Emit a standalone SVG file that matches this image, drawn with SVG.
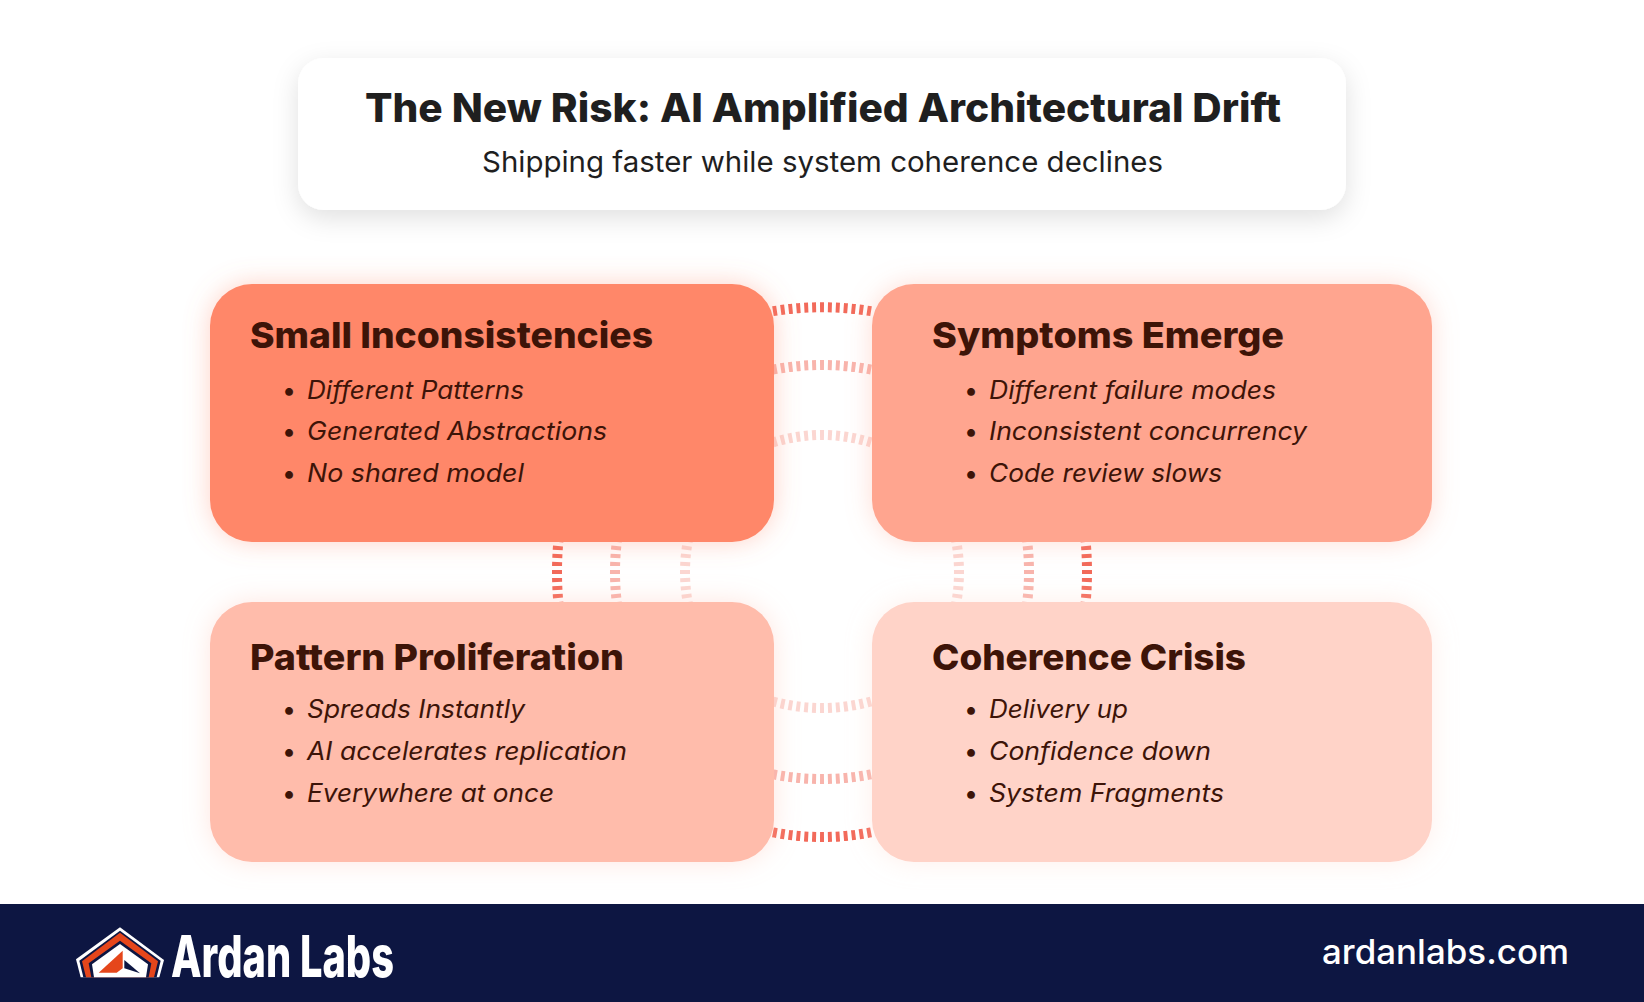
<svg xmlns="http://www.w3.org/2000/svg" width="1644" height="1002" viewBox="0 0 1644 1002">
<style>
text{font-family:"Inter","Noto Sans","Liberation Sans",sans-serif}
.h{font-size:36px;font-weight:800;fill:#3d1408}
.b{font-size:25px;font-style:italic;font-weight:400;fill:#3d1408}
.d{font-size:25px;fill:#3d1408}
.c{fill:none;stroke:#f26a5a;stroke-width:10;stroke-dasharray:4 4}
.h1{stroke-dashoffset:6}
.v{stroke-dashoffset:2}
.s1{opacity:1}.s2{opacity:.5}.s3{opacity:.28}
</style>
<defs>
<filter id="cardShadow" x="-10%" y="-30%" width="120%" height="170%"><feDropShadow dx="0" dy="8" stdDeviation="13" flood-color="#000" flood-opacity=".12"/></filter>
<filter id="g1" x="-15%" y="-25%" width="130%" height="150%"><feDropShadow dx="0" dy="0" stdDeviation="13" flood-color="#ff8769" flood-opacity=".38"/></filter>
<filter id="g2" x="-15%" y="-25%" width="130%" height="150%"><feDropShadow dx="0" dy="0" stdDeviation="13" flood-color="#ffa58f" flood-opacity=".38"/></filter>
<filter id="g3" x="-15%" y="-25%" width="130%" height="150%"><feDropShadow dx="0" dy="0" stdDeviation="13" flood-color="#ffbcab" flood-opacity=".38"/></filter>
<filter id="g4" x="-15%" y="-25%" width="130%" height="150%"><feDropShadow dx="0" dy="0" stdDeviation="13" flood-color="#ffd3c8" flood-opacity=".38"/></filter>
</defs>
<rect width="1644" height="1002" fill="#fff"/>
<g id="connectors">
<path class="c h1 s1" pathLength="104" d="M771 311.5Q822 303 873 311.5"/>
<path class="c h1 s2" pathLength="104" d="M771 370Q822 360 873 370"/>
<path class="c h1 s3" pathLength="104" d="M771 443Q822 427 873 443"/>
<path class="c h1 s3" pathLength="104" d="M771 701Q822 715 873 701"/>
<path class="c h1 s2" pathLength="104" d="M771 774Q822 784 873 774"/>
<path class="c h1 s1" pathLength="104" d="M771 832Q822 842 873 832"/>
<path class="c v s1" pathLength="64" d="M558.5 540Q555.5 572 558.5 604"/>
<path class="c v s2" pathLength="64" d="M617 540Q613 572 617 604"/>
<path class="c v s3" pathLength="64" d="M688 540Q682 572 688 604"/>
<path class="c v s3" pathLength="64" d="M956 540Q962 572 956 604"/>
<path class="c v s2" pathLength="64" d="M1027 540Q1031 572 1027 604"/>
<path class="c v s1" pathLength="64" d="M1085.5 540Q1088.500 572 1085.500 604"/>
</g>
<g id="title-card">
<rect x="298" y="58" width="1048" height="152" rx="26" fill="#fff" filter="url(#cardShadow)"/>
<text x="365" y="122" font-size="40" font-weight="800" fill="#1f1f1f" textLength="916" lengthAdjust="spacingAndGlyphs">The New Risk: AI Amplified Architectural Drift</text>
<text x="482" y="172" font-size="29" font-weight="400" fill="#1f1f1f" textLength="681" lengthAdjust="spacingAndGlyphs">Shipping faster while system coherence declines</text>
</g>
<g id="small-inconsistencies">
<rect x="210" y="284" width="564" height="258" rx="42" fill="#ff8769" filter="url(#g1)"/>
<text class="h" x="250" y="348" textLength="403" lengthAdjust="spacingAndGlyphs">Small Inconsistencies</text>
<text class="d" x="282" y="399">•</text><text class="b" x="307" y="399" textLength="217" lengthAdjust="spacingAndGlyphs">Different Patterns</text>
<text class="d" x="282" y="440">•</text><text class="b" x="307" y="440" textLength="300" lengthAdjust="spacingAndGlyphs">Generated Abstractions</text>
<text class="d" x="282" y="482">•</text><text class="b" x="307" y="482" textLength="217" lengthAdjust="spacingAndGlyphs">No shared model</text>
</g>
<g id="symptoms-emerge">
<rect x="872" y="284" width="560" height="258" rx="42" fill="#ffa58f" filter="url(#g2)"/>
<text class="h" x="932" y="348" textLength="352" lengthAdjust="spacingAndGlyphs">Symptoms Emerge</text>
<text class="d" x="964" y="399">•</text><text class="b" x="989" y="399" textLength="287" lengthAdjust="spacingAndGlyphs">Different failure modes</text>
<text class="d" x="964" y="440">•</text><text class="b" x="989" y="440" textLength="318" lengthAdjust="spacingAndGlyphs">Inconsistent concurrency</text>
<text class="d" x="964" y="482">•</text><text class="b" x="989" y="482" textLength="233" lengthAdjust="spacingAndGlyphs">Code review slows</text>
</g>
<g id="pattern-proliferation">
<rect x="210" y="602" width="564" height="260" rx="42" fill="#ffbcab" filter="url(#g3)"/>
<text class="h" x="250" y="670" textLength="374" lengthAdjust="spacingAndGlyphs">Pattern Proliferation</text>
<text class="d" x="282" y="718">•</text><text class="b" x="307" y="718" textLength="218" lengthAdjust="spacingAndGlyphs">Spreads Instantly</text>
<text class="d" x="282" y="760">•</text><text class="b" x="307" y="760" textLength="320" lengthAdjust="spacingAndGlyphs">AI accelerates replication</text>
<text class="d" x="282" y="802">•</text><text class="b" x="307" y="802" textLength="247" lengthAdjust="spacingAndGlyphs">Everywhere at once</text>
</g>
<g id="coherence-crisis">
<rect x="872" y="602" width="560" height="260" rx="42" fill="#ffd3c8" filter="url(#g4)"/>
<text class="h" x="932" y="670" textLength="314" lengthAdjust="spacingAndGlyphs">Coherence Crisis</text>
<text class="d" x="964" y="718">•</text><text class="b" x="989" y="718" textLength="139" lengthAdjust="spacingAndGlyphs">Delivery up</text>
<text class="d" x="964" y="760">•</text><text class="b" x="989" y="760" textLength="222" lengthAdjust="spacingAndGlyphs">Confidence down</text>
<text class="d" x="964" y="802">•</text><text class="b" x="989" y="802" textLength="235" lengthAdjust="spacingAndGlyphs">System Fragments</text>
</g>
<g id="footer">
<rect x="0" y="904" width="1644" height="98" fill="#0d1642"/>
<g transform="translate(50 900) scale(.33333)">
<polygon points="210,82 342,180 328,232 92,232 78,178" fill="#fff"/>
<polygon points="210,92 332,182 320,232 100,232 88,182" fill="#0d1642"/>
<polygon points="210,98 324,184 312,232 108,232 96,184" fill="#e5461b"/>
<polygon points="210,122 304,190 296,232 124,232 116,190" fill="#0d1642"/>
<polygon points="210,132 294,193 288,232 132,232 126,193" fill="#fff"/>
<polygon points="218,152 218,205 200,218 146,218" fill="#e5461b"/>
<polygon points="223,180 270,220 223,205" fill="#0d1642"/>
</g>
<text x="171" y="977" font-size="58" font-weight="800" fill="#fff" textLength="223" lengthAdjust="spacingAndGlyphs">Ardan Labs</text>
<text x="1322" y="964" font-size="34" font-weight="500" fill="#fff" textLength="247" lengthAdjust="spacingAndGlyphs">ardanlabs.com</text>
</g>
</svg>
